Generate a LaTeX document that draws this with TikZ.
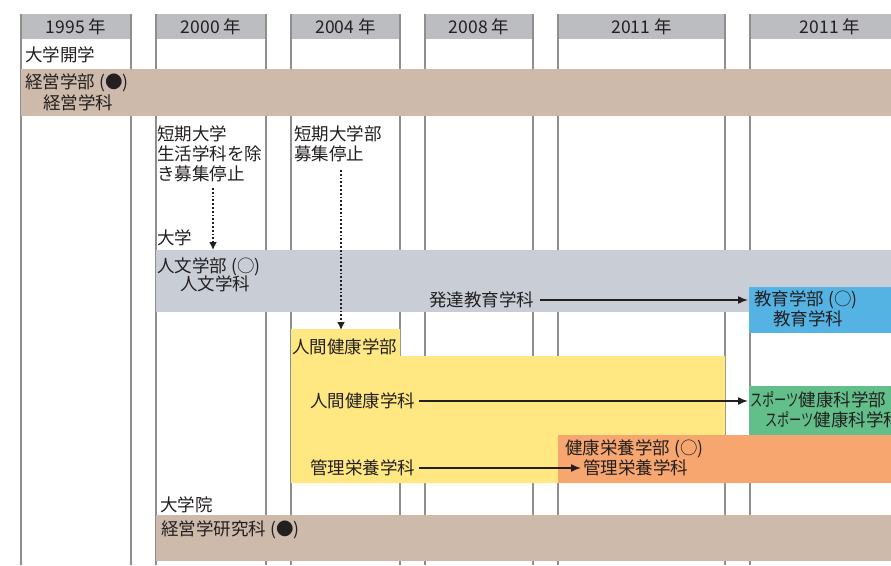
\documentclass[tikz,border=0pt]{standalone}
\usepackage{graphicx}
\usepackage{fontspec}
\setmainfont{Noto Sans CJK JP}
\usetikzlibrary{arrows.meta}
\definecolor{ink}{HTML}{231F20}
\definecolor{headgray}{HTML}{BCBDC1}
\definecolor{vgray}{HTML}{8E8E90}
\definecolor{tan}{HTML}{CDBAAA}
\definecolor{bluegray}{HTML}{C9CED6}
\definecolor{skyblue}{HTML}{54B3E3}
\definecolor{lightyellow}{HTML}{FFE882}
\definecolor{mint}{HTML}{62BF8A}
\definecolor{apricot}{HTML}{F6A66E}
\newcommand{\narrowkana}[1]{\scalebox{0.7}[1]{#1}}
\tikzset{
  head/.style={fill=headgray, minimum height=25pt, inner sep=0pt, text=ink, font=\fontsize{17.5}{20}\selectfont},
  vline/.style={draw=vgray, line width=1.3pt},
  lbl/.style={anchor=west, inner sep=0pt, text=ink, align=left, font=\fontsize{17.5}{20}\selectfont},
  arr/.style={draw=ink, line width=1.5pt, -{Latex[length=10pt,width=8pt]}},
  dotarr/.style={draw=ink, line width=1.8pt, dotted, -{Latex[length=8pt,width=8pt]}},
}
\begin{document}
\begin{tikzpicture}[x=1pt,y=-1pt]
\useasboundingbox (0,0) rectangle (891,565);
\clip (0,0) rectangle (891,565);
\fill[white] (0,0) rectangle (891,565);
% header boxes
\node[head, minimum width=110pt] (h1) at (76,26.5) {1995 年};
\node[head, minimum width=110pt] (h2) at (211,26.5) {2000 年};
\node[head, minimum width=109pt] (h3) at (345.5,26.5) {2004 年};
\node[head, minimum width=108pt] (h4) at (479,26.5) {2008 年};
\node[head, minimum width=167pt] (h5) at (641.5,26.5) {2011 年};
\node[head, minimum width=160pt] (h6) at (830,26.5) {2011 年};
% column lines
\foreach \x in {21,131,156,266,291,400,425,533,558,725,750}
  \draw[vline] (\x,14) -- (\x,565);
% bands
\fill[tan] (21,69) rectangle (891,116);
\fill[bluegray] (156,250) rectangle (891,312);
\fill[skyblue] (749,287) rectangle (891,333);
\fill[lightyellow] (291,329) -- (400,329) -- (400,356) -- (725,356) -- (725,483) -- (291,483) -- cycle;
\fill[mint] (749,386) rectangle (891,435);
\fill[apricot] (558,435) rectangle (891,483);
\fill[tan] (156,515) rectangle (891,561);
% texts
\node[lbl] (kaigaku) at (25,55) {大学開学};
\node[lbl] (keiei) at (25,83) {経営学部 (●)};
\node[lbl] (keieika) at (43,103) {経営学科};
\node[lbl, anchor=north west] (tanki1) at (157,126) {短期大学\\生活学科を除\\き募集停止};
\node[lbl, anchor=north west] (tanki2) at (294,126) {短期大学部\\募集停止};
\node[lbl] (daigaku) at (157,238) {大学};
\node[lbl] (jinbun) at (157,267) {人文学部 (○)};
\node[lbl] (jinbunka) at (180,284) {人文学科};
\node[lbl] (hattatsu) at (429,300) {発達教育学科};
\node[lbl] (kyoiku) at (754,300) {教育学部 (○)};
\node[lbl] (kyoikuka) at (773,319) {教育学科};
\node[lbl] (ningen) at (292,347) {人間健康学部};
\node[lbl] (ningenka) at (310,401) {人間健康学科};
\node[lbl] (sports) at (750,401) {\narrowkana{スポーツ}健康科学部 (○)};
\node[lbl] (sportska) at (765,420) {\narrowkana{スポーツ}健康科学科};
\node[lbl] (eiyo) at (565,449) {健康栄養学部 (○)};
\node[lbl] (kanri1) at (310,468) {管理栄養学科};
\node[lbl] (kanri2) at (583,468) {管理栄養学科};
\node[lbl] (daigakuin) at (160,505) {大学院};
\node[lbl] (kenkyu) at (161,530) {経営学研究科 (●)};
% connector targets
\coordinate (edubox) at (748,301);
\coordinate (sportbox) at (748,401);
\coordinate (d1top) at (213,188);
\coordinate (d1end) at (213,250);
\coordinate (d2top) at (341,170);
\coordinate (d2end) at (341,330);
% arrows
\draw[arr] ([xshift=6pt]hattatsu.east) -- (edubox |- hattatsu.east);
\draw[arr] ([xshift=4pt]ningenka.east) -- (sportbox |- ningenka.east);
\draw[arr] ([xshift=4pt]kanri1.east) -- ([xshift=-2pt]kanri2.west);
\draw[dotarr] (d1top) -- (d1end);
\draw[dotarr] (d2top) -- (d2end);
\end{tikzpicture}
\end{document}
